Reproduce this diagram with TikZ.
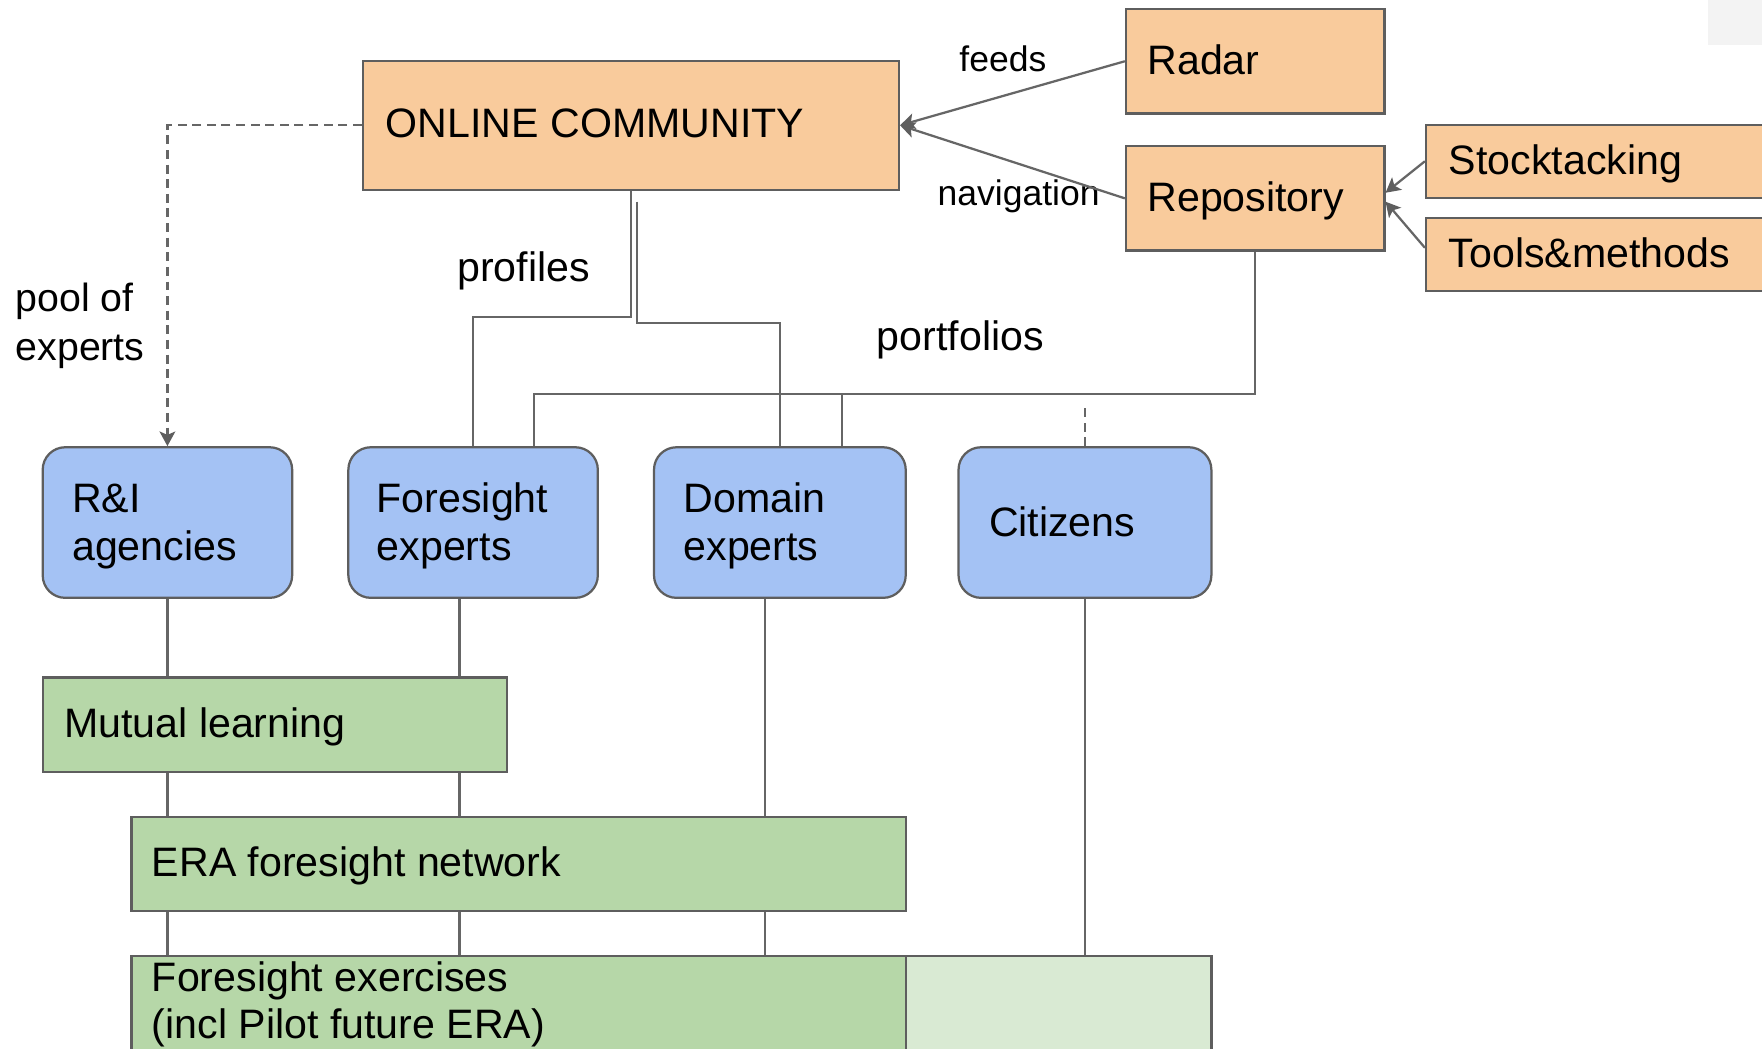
\documentclass[tikz,border=0pt]{standalone}
\usepackage{fontspec}
\setmainfont{Liberation Sans}
\usetikzlibrary{arrows.meta,calc}
\definecolor{orng}{HTML}{F9CB9C}
\definecolor{blu}{HTML}{A4C2F4}
\definecolor{grn}{HTML}{B6D7A8}
\definecolor{lgrn}{HTML}{D9EAD3}
\definecolor{bord}{HTML}{5E5E5E}
\definecolor{conng}{HTML}{666666}
\definecolor{corner}{HTML}{F3F3F3}
\begin{document}
\begin{tikzpicture}[x=0.5pt,y=-0.5pt,
  box/.style={draw=bord, line width=1pt, inner sep=0pt, anchor=north west},
  orangebox/.style={box, fill=orng},
  bluebox/.style={box, fill=blu, rounded corners=10pt},
  greenbox/.style={box, fill=grn},
  txt/.style={inner sep=0pt, anchor=base west, font=\fontsize{18.3}{21}\selectfont, text=black},
  lbl/.style={inner sep=0pt, anchor=base west, font=\fontsize{15.8}{19}\selectfont, text=black},
  conn/.style={draw=conng, line width=1pt},
  arr/.style={-{Stealth[length=6.5pt,width=7pt,inset=1.5pt,color=bord]}},
  dsh/.style={dash pattern=on 4pt off 2.5pt},
]
\useasboundingbox (0,0) rectangle (1568,933);
\clip (0,0) rectangle (1568,933);
\fill[white] (0,0) rectangle (1568,933);
\fill[corner] (1520,0) rectangle (1568,40);

% boxes
\node[orangebox, minimum width=238.5pt, minimum height=57.5pt] (online) at (322,53) {};
\node[orangebox, minimum width=115pt, minimum height=46.5pt] (radar) at (1001,7) {};
\node[orangebox, minimum width=115pt, minimum height=46.5pt] (repo) at (1001,129) {};
\node[orangebox, minimum width=175.5pt, minimum height=32.5pt] (stock) at (1268,110) {};
\node[orangebox, minimum width=175.5pt, minimum height=32.5pt] (tools) at (1268,193) {};

\node[bluebox, minimum width=111pt, minimum height=67pt] (ri) at (37,397) {};
\node[bluebox, minimum width=111pt, minimum height=67pt] (fe) at (309,397) {};
\node[bluebox, minimum width=112pt, minimum height=67pt] (de) at (581,397) {};
\node[bluebox, minimum width=112.5pt, minimum height=67pt] (cit) at (852,397) {};

\node[greenbox, minimum width=206.5pt, minimum height=42pt] (ml) at (37,602) {};
\node[greenbox, minimum width=344.5pt, minimum height=42pt] (era) at (116,726) {};
\node[greenbox, minimum width=344.5pt, minimum height=45pt] (fex) at (116,850) {};
\node[box, fill=lgrn, minimum width=136pt, minimum height=45pt] (fexc) at (805,850) {};

% texts
\node[txt] (t-online) at (343,122) {ONLINE COMMUNITY};
\node[txt] (t-radar) at (1020.7,66.7) {Radar};
\node[txt] (t-repo) at (1020.7,188.4) {Repository};
\node[txt] (t-stock) at (1288.9,155.7) {Stocktacking};
\node[txt] (t-tools) at (1288.9,237.9) {Tools\&methods};
\node[lbl] (l-feeds) at (853.4,63.8) {feeds};
\node[lbl] (l-nav) at (834,183) {navigation};
\node[txt] (l-prof) at (406.4,250.6) {profiles};
\node[txt] (l-port) at (780,311.5) {portfolios};
\node[txt, font=\fontsize{17.5}{21.5}\selectfont] (l-pool) at (13.5,277.4) {\begin{tabular}[t]{@{}l@{}}pool of\\experts\end{tabular}};
\node[txt] (t-ri) at (63.8,456.4) {\begin{tabular}[t]{@{}l@{}}R\&I\\agencies\end{tabular}};
\node[txt] (t-fe) at (334.9,456.4) {\begin{tabular}[t]{@{}l@{}}Foresight\\experts\end{tabular}};
\node[txt] (t-de) at (608,456.4) {\begin{tabular}[t]{@{}l@{}}Domain\\experts\end{tabular}};
\node[txt] (t-cit) at (879.7,477.4) {Citizens};
\node[txt] (t-ml) at (56.8,656.2) {Mutual learning};
\node[txt] (t-era) at (134.8,779.7) {ERA foresight network};
\node[txt] (t-fex) at (134.8,882.5) {\begin{tabular}[t]{@{}l@{}}Foresight exercises\\(incl Pilot future ERA)\end{tabular}};

% connectors top
\draw[conn,arr] (radar.west) -- (online.east);
\draw[conn,arr] (repo.west) -- (online.east);
\draw[conn,arr] (stock.west) -- ([yshift=2.5pt]repo.east);
\draw[conn,arr] ([yshift=3pt]tools.west) -- ([yshift=-1.5pt]repo.east);
\draw[conn,arr,dsh] (online.west) -| (ri.north);

\coordinate (pj1) at (0,282.4);
\coordinate (pj2) at (0,287.7);
\coordinate (s2) at (566.6,179.5);
\draw[conn] (online.south) |- (fe.north |- pj1) -- (fe.north);
\draw[conn] (s2) |- (de.north |- pj2) -- (de.north);

\coordinate (pf) at (0,350.9);
\coordinate (fe2) at ($(fe.north)+(54.5,0)$);
\coordinate (de2) at ($(de.north)+(55.3,0)$);
\draw[conn] (repo.south) |- (fe2 |- pf) -- (fe2);
\draw[conn] (de2 |- pf) -- (de2);
\draw[conn,dsh] (cit.north) -- ++(0,-38);

% connectors bottom
\coordinate (fe3) at ($(fe.south)+(-12,0)$);
\coordinate (de3) at ($(de.south)+(-13,0)$);
\draw[conn] (ri.south) -- (ri.south |- ml.north);
\draw[conn] (ri.south |- ml.south) -- (ri.south |- era.north);
\draw[conn] (ri.south |- era.south) -- (ri.south |- fex.north);
\draw[conn] (fe3) -- (fe3 |- ml.north);
\draw[conn] (fe3 |- ml.south) -- (fe3 |- era.north);
\draw[conn] (fe3 |- era.south) -- (fe3 |- fex.north);
\draw[conn] (de3) -- (de3 |- era.north);
\draw[conn] (de3 |- era.south) -- (de3 |- fex.north);
\draw[conn] (cit.south) -- (cit.south |- fexc.north);
\end{tikzpicture}
\end{document}
